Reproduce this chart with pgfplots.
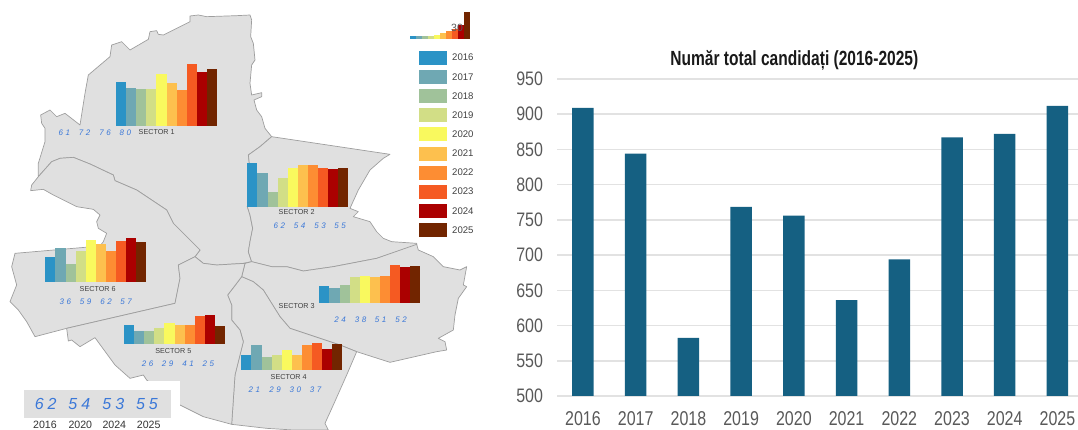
\documentclass[border=0pt]{standalone}
\usepackage{fontspec}
\setmainfont{Liberation Sans}
\usepackage{pgfplots}
\pgfplotsset{compat=1.18}
\definecolor{c16}{HTML}{2B93C6}
\definecolor{c17}{HTML}{6FA8B3}
\definecolor{c18}{HTML}{A0C29A}
\definecolor{c19}{HTML}{D2DE86}
\definecolor{c20}{HTML}{F9F95E}
\definecolor{c21}{HTML}{FDC04E}
\definecolor{c22}{HTML}{FD8D33}
\definecolor{c23}{HTML}{F55A22}
\definecolor{c24}{HTML}{AB0000}
\definecolor{c25}{HTML}{722500}
\definecolor{mapfill}{HTML}{E0E0E0}
\definecolor{mapline}{HTML}{9E9E9E}
\definecolor{blueno}{HTML}{3B78D8}
\definecolor{barblue}{HTML}{156082}
\definecolor{tickgray}{HTML}{595959}
\definecolor{gridgray}{HTML}{E2E2E2}
\newcommand\B[3]{\addplot[ybar,bar width=\barw,bar shift=0pt,fill=#1,draw=none] coordinates {(#2,#3)};}
\newcommand\BarsA[5]{\B{c16}{0}{#1}\B{c17}{1}{#2}\B{c18}{2}{#3}\B{c19}{3}{#4}\B{c20}{4}{#5}}
\newcommand\BarsB[5]{\B{c21}{5}{#1}\B{c22}{6}{#2}\B{c23}{7}{#3}\B{c24}{8}{#4}\B{c25}{9}{#5}}
\newcommand\barw{10.1pt}
\newcommand\mini[3]{%
\begin{axis}[at={(#1pt,#2pt)},anchor=south west,scale only axis,width=101pt,height=71.2pt,
  hide axis,xmin=-0.5,xmax=9.5,ymin=0,ymax=100,clip=false]
#3
\end{axis}}
\newcommand\seclab[3]{\node[font=\fontsize{7.2}{8}\selectfont,text=black!75,inner sep=0pt] at (#1,#2) {#3};}
\newcommand\bn[3]{\node[font=\fontsize{8}{9}\selectfont\itshape,text=blueno,inner sep=0pt] at (#1,#2) {#3};}
\newcommand\pair[2]{#1\hspace{2.6pt}#2}
\newcommand\bigno[3]{\node[font=\fontsize{16}{18}\selectfont\itshape,text=blueno,inner sep=0pt] at (#1,#2) {#3};}
\newcommand\yr[2]{\node[font=\fontsize{10.6}{12}\selectfont,text=black!80,inner sep=0pt] at (#1,1275) {#2};}
\newcommand\sw[5]{\addplot[fill=#1,draw=none] coordinates {(1256,#2)(1340,#2)(1340,#3)(1256,#3)} -- cycle;
\node[font=\fontsize{9.6}{11}\selectfont,text=black!75,anchor=west,inner sep=0pt] at (1356,#4) {#5};}
\newcommand\xl[1]{\scalebox{0.8}[1]{#1}}
\begin{document}
\begin{tikzpicture}
\path[use as bounding box] (0,0) rectangle (1078pt,430pt);
\begin{axis}[at={(0pt,0pt)},anchor=south west,scale only axis,width=1078pt,height=430pt,
  hide axis,xmin=0,xmax=3234,ymin=0,ymax=1290,y dir=reverse,clip=false]
\pgfplotsset{every axis plot/.append style={line width=0.7pt,line join=round}}
% Sector 1
\addplot[fill=mapfill,draw=mapline] coordinates {(570,48)(595,45)(620,50)(710,47)(750,45)(755,60)(752,110)(760,130)(765,180)(755,195)(750,250)(755,285)(785,278)(785,290)(762,300)(770,330)(785,350)(795,385)(815,410)(780,440)(745,465)(748,490)(742,620)(750,645)(758,685)(750,725)(745,755)(755,785)(730,790)(650,795)(610,790)(585,770)(600,750)(570,720)(520,670)(500,630)(410,570)(345,542)(340,525)(270,492)(220,472)(180,475)(155,485)(115,530)(115,490)(135,425)(135,385)(125,370)(122,345)(150,330)(170,350)(195,340)(240,375)(255,280)(265,225)(330,170)(335,135)(365,125)(390,150)(445,118)(450,95)(470,92)(475,103)(490,105)(570,65)} -- cycle;
% Sector 6
\addplot[fill=mapfill,draw=mapline] coordinates {(92,572)(95,555)(115,530)(155,485)(180,475)(220,472)(270,492)(340,525)(345,542)(410,570)(500,630)(520,670)(570,720)(600,750)(585,770)(535,795)(540,835)(525,910)(200,985)(105,1010)(80,965)(55,930)(30,905)(50,855)(35,800)(45,760)(255,742)(300,738)(310,725)(320,700)(295,685)(290,665)(300,645)(280,628)(230,620)(160,585)(130,568)} -- cycle;
% Sector 2
\addplot[fill=mapfill,draw=mapline] coordinates {(815,410)(1170,463)(1150,475)(1110,510)(1075,570)(1050,625)(1075,635)(1060,650)(1110,665)(1130,695)(1150,715)(1175,725)(1250,730)(1250,735)(1130,775)(1000,800)(910,813)(860,800)(815,800)(755,785)(745,755)(750,725)(758,685)(750,645)(742,620)(748,490)(745,465)(780,440)} -- cycle;
% Sector 3
\addplot[fill=mapfill,draw=mapline] coordinates {(735,790)(755,785)(815,800)(860,800)(910,813)(1000,800)(1130,775)(1250,733)(1255,750)(1300,770)(1330,800)(1380,810)(1400,800)(1390,855)(1400,860)(1375,895)(1365,945)(1360,990)(1315,1015)(1335,1025)(1340,1050)(1310,1055)(1170,1087)(1070,1055)(1020,1035)(870,985)(840,950)(790,870)(760,845)(725,830)} -- cycle;
% Sector 4
\addplot[fill=mapfill,draw=mapline] coordinates {(725,830)(760,845)(790,870)(840,950)(870,985)(1020,1035)(1070,1055)(1040,1125)(1000,1215)(975,1270)(985,1290)(880,1290)(800,1285)(695,1273)(705,1125)(730,1025)(720,990)(695,960)(695,915)(683,885)(710,850)} -- cycle;
% Sector 5
\addplot[fill=mapfill,draw=mapline] coordinates {(585,770)(610,790)(650,795)(735,790)(725,830)(710,850)(683,885)(695,915)(695,960)(720,990)(730,1025)(705,1125)(695,1273)(610,1250)(540,1215)(500,1185)(440,1140)(430,1125)(410,1130)(390,1135)(345,1095)(285,1013)(240,1040)(215,1020)(205,1023)(200,985)(525,910)(540,835)(535,795)} -- cycle;
% key panel
\addplot[fill=white,draw=none] coordinates {(0,1142)(540,1142)(540,1290)(0,1290)} -- cycle;
\addplot[fill=mapfill,draw=none] coordinates {(72,1170)(513,1170)(513,1253)(72,1253)} -- cycle;
\bigno{137}{1211}{6\hspace{4pt}2}\bigno{238}{1211}{5\hspace{4pt}4}\bigno{340}{1211}{5\hspace{4pt}3}\bigno{441}{1211}{5\hspace{4pt}5}
\yr{135}{2016}\yr{241}{2020}\yr{343}{2024}\yr{446}{2025}
% colour legend
\sw{c16}{152}{194}{173}{2016}\sw{c17}{210}{252}{231}{2017}\sw{c18}{268}{310}{289}{2018}\sw{c19}{325}{367}{346}{2019}\sw{c20}{382}{424}{403}{2020}
\sw{c21}{440}{482}{461}{2021}\sw{c22}{497}{539}{518}{2022}\sw{c23}{554}{596}{575}{2023}\sw{c24}{612}{654}{633}{2024}\sw{c25}{670}{712}{691}{2025}
% sector labels
\seclab{470}{397}{SECTOR 1}\seclab{890}{637}{SECTOR 2}\seclab{890}{918}{SECTOR 3}
\seclab{866}{1132}{SECTOR 4}\seclab{520}{1052}{SECTOR 5}\seclab{293}{866}{SECTOR 6}
\bn{193}{397}{\pair61}\bn{254}{397}{\pair72}\bn{315}{397}{\pair76}\bn{376}{397}{\pair80}
\bn{838}{678}{\pair62}\bn{899}{678}{\pair54}\bn{960}{678}{\pair53}\bn{1020}{678}{\pair55}
\bn{1020}{959}{\pair24}\bn{1082}{959}{\pair38}\bn{1142}{959}{\pair51}\bn{1203}{959}{\pair52}
\bn{763}{1170}{\pair21}\bn{825}{1170}{\pair29}\bn{886}{1170}{\pair30}\bn{947}{1170}{\pair37}
\bn{443}{1092}{\pair26}\bn{503}{1092}{\pair29}\bn{564}{1092}{\pair41}\bn{625}{1092}{\pair25}
\bn{196}{906}{\pair36}\bn{257}{906}{\pair59}\bn{318}{906}{\pair62}\bn{378}{906}{\pair57}
\end{axis}
% sector mini charts
\mini{116}{304.3}{\BarsA{61}{53}{51}{51}{72}\BarsB{60}{50}{86}{76}{80}}
\mini{247.3}{223.3}{\BarsA{62}{48}{20}{40}{54}\BarsB{59}{59}{55}{53}{55}}
\mini{319.3}{127}{\BarsA{24}{21}{25}{37}{38}\BarsB{37}{38}{54}{51}{52}}
\mini{241.3}{59.7}{\BarsA{21}{35}{18}{22}{29}\BarsB{22}{35}{38}{30}{37}}
\mini{124}{86}{\BarsA{26}{18}{18}{22}{29}\BarsB{27}{27}{39}{41}{25}}
\mini{45.3}{147.7}{\BarsA{36}{48}{25}{44}{59}\BarsB{54}{44}{58}{62}{57}}
% tiny chart at the top of the legend
\renewcommand\barw{6pt}
\begin{axis}[at={(410pt,391.3pt)},anchor=south west,scale only axis,width=60pt,height=40pt,
  hide axis,xmin=-0.5,xmax=9.5,ymin=0,ymax=120,clip=false]
\BarsA{8}{8}{8}{9}{11}\BarsB{16}{22}{28}{42}{80}
\end{axis}
\node[font=\fontsize{10.5}{12}\selectfont,text=black!65,inner sep=0pt] at (457pt,402pt) {30};
% right chart
\begin{axis}[at={(557pt,34pt)},anchor=south west,scale only axis,width=521pt,height=317pt,
  xmin=-0.493,xmax=9.39,ymin=500,ymax=950,
  axis line style={draw=none},tick style={draw=none},
  ymajorgrids,grid style={gridgray,line width=1.6pt},
  ytick={500,550,...,950},xtick={0,...,9},
  xticklabels={\xl{2016},\xl{2017},\xl{2018},\xl{2019},\xl{2020},\xl{2021},\xl{2022},\xl{2023},\xl{2024},\xl{2025}},
  yticklabel={\scalebox{0.82}[1]{\pgfmathprintnumber{\tick}}},
  /pgf/number format/assume math mode=true,
  /pgf/number format/1000 sep={},
  tick label style={text=tickgray},
  yticklabel style={font=\fontsize{19.5}{22}\selectfont,xshift=-10.5pt},
  xticklabel style={font=\fontsize{20}{23}\selectfont,inner sep=0pt,yshift=-15.5pt},
  clip=false]
\addplot[ybar,bar width=21.5pt,bar shift=0pt,fill=barblue,draw=none] coordinates {
(0,909)(1,844)(2,582.5)(3,768.5)(4,756)(5,636)(6,694)(7,867)(8,872)(9,912)};
\node[font=\fontsize{20.5}{23}\selectfont\bfseries,text=black!90,inner sep=0pt] at (axis cs:4.01,977) {\scalebox{0.758}[1]{Număr total candidați (2016-2025)}};
\end{axis}
\end{tikzpicture}
\end{document}
